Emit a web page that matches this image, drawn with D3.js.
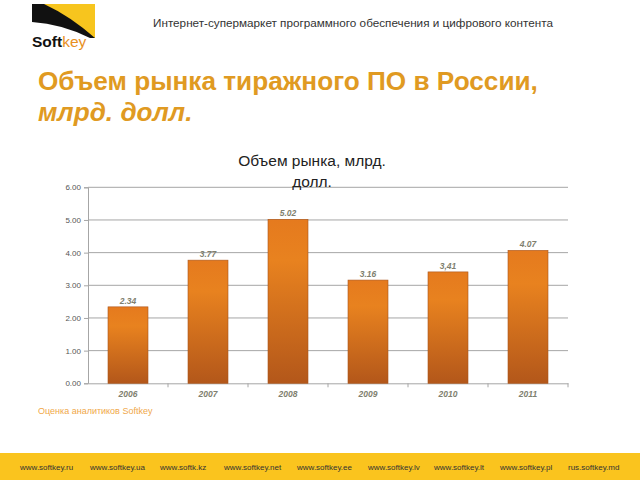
<!DOCTYPE html>
<html><head><meta charset="utf-8">
<script src="https://cdn.jsdelivr.net/npm/d3@7"></script>
<style>body{margin:0;background:#fff}svg{display:block}</style>
</head><body>
<script>
const years = ["2006","2007","2008","2009","2010","2011"];
const values = [2.34, 3.77, 5.02, 3.16, 3.41, 4.07];
const valueLabels = ["2.34","3.77","5.02","3.16","3,41","4.07"];
const yTicks = [0,1,2,3,4,5,6];
const footerLinks = ["www.softkey.ru","www.softkey.ua","www.softk.kz","www.softkey.net","www.softkey.ee","www.softkey.lv","www.softkey.lt","www.softkey.pl","rus.softkey.md"];
const footerX = [20,90,160,224,297,368,434,500,568];

const W=640,H=480;
const svg=d3.select("body").append("svg").attr("width",W).attr("height",H);
const defs=svg.append("defs");
const g=defs.append("linearGradient").attr("id","barg").attr("x1",0).attr("y1",0).attr("x2",0).attr("y2",1);
g.append("stop").attr("offset","0%").attr("stop-color","#E57A1E");
g.append("stop").attr("offset","25%").attr("stop-color","#E8821F");
g.append("stop").attr("offset","100%").attr("stop-color","#B3571A");

// logo
const logo=svg.append("g");
logo.append("rect").attr("x",32).attr("y",4).attr("width",63).attr("height",34).attr("fill","#F7C51E");
logo.append("path").attr("d","M32,4 L44,4 Q70,16 95,38 L32,38 Z").attr("fill","#111");
logo.append("path").attr("d","M32,22 Q62,24 90,38 L32,38 Z").attr("fill","#fff");
const lt=logo.append("text").attr("x",32).attr("y",47).attr("font-family","Liberation Sans, Arial, sans-serif").attr("font-size",15.5).attr("font-weight","bold");
lt.append("tspan").attr("fill","#111").text("Soft");
lt.append("tspan").attr("fill","#E8901E").attr("font-weight","normal").text("key");

svg.append("text").attr("x",153).attr("y",27).attr("font-family","Liberation Sans, Arial, sans-serif").attr("font-size",11.7).attr("fill","#333")
  .attr("textLength",400).attr("lengthAdjust","spacingAndGlyphs")
  .text("Интернет-супермаркет программного обеспечения и цифрового контента");

svg.append("text").attr("x",38).attr("y",90).attr("font-family","Liberation Sans, Arial, sans-serif").attr("font-size",26.2).attr("font-weight","bold").attr("fill","#E09A22")
  .text("Объем рынка тиражного ПО в России,");
svg.append("text").attr("x",38).attr("y",121).attr("font-family","Liberation Sans, Arial, sans-serif").attr("font-size",26.2).attr("font-weight","bold").attr("font-style","italic").attr("fill","#E09A22")
  .text("млрд. долл.");

// chart
const x=d3.scaleBand().domain(years).range([88,568]).paddingInner(0.5).paddingOuter(0.25);
const y=d3.scaleLinear().domain([0,6]).range([383.3,187.3]);

const grid=svg.append("g");
grid.selectAll("line").data(yTicks.slice(1)).join("line")
  .attr("x1",88).attr("x2",568).attr("y1",d=>y(d)).attr("y2",d=>y(d)).attr("stroke","#A6A6A6").attr("stroke-width",1);

const yAxis=svg.append("g").attr("transform","translate(88,0)")
  .call(d3.axisLeft(y).tickValues(yTicks).tickFormat(d3.format(".2f")).tickSize(4).tickPadding(3));
yAxis.select(".domain").attr("stroke","#A6A6A6");
yAxis.selectAll(".tick line").attr("stroke","#A6A6A6");
yAxis.selectAll("text").attr("font-family","Liberation Sans, Arial, sans-serif").attr("font-size",8).attr("fill","#555");

const xAxis=svg.append("g").attr("transform","translate(0,383.3)")
  .call(d3.axisBottom(x).tickSize(0).tickPadding(8));
xAxis.select(".domain").attr("stroke","#A6A6A6");
xAxis.selectAll("text").attr("font-family","Liberation Sans, Arial, sans-serif").attr("font-size",8.5).attr("font-weight","bold").attr("font-style","italic").attr("fill","#7F7F6F");
svg.append("g").selectAll("line").data(d3.range(1,7)).join("line")
  .attr("x1",d=>88+d*x.step()).attr("x2",d=>88+d*x.step()).attr("y1",383.3).attr("y2",387.3).attr("stroke","#A6A6A6");

svg.append("g").selectAll("rect").data(values).join("rect")
  .attr("x",(d,i)=>x(years[i])).attr("width",x.bandwidth())
  .attr("y",d=>y(d)).attr("height",d=>y(0)-y(d))
  .attr("fill","url(#barg)").attr("stroke","#A9551C").attr("stroke-width",0.6);

svg.append("g").selectAll("text").data(values).join("text")
  .attr("x",(d,i)=>x(years[i])+x.bandwidth()/2).attr("y",d=>y(d)-3)
  .attr("text-anchor","middle").attr("font-family","Liberation Sans, Arial, sans-serif").attr("font-size",8.5)
  .attr("font-weight","bold").attr("font-style","italic").attr("fill","#7F7F6F")
  .text((d,i)=>valueLabels[i]);

svg.append("text").attr("x",312).attr("y",166).attr("text-anchor","middle").attr("font-family","Liberation Sans, Arial, sans-serif").attr("font-size",15.5).attr("fill","#222").text("Объем рынка, млрд.");
svg.append("text").attr("x",312).attr("y",187).attr("text-anchor","middle").attr("font-family","Liberation Sans, Arial, sans-serif").attr("font-size",15.5).attr("fill","#222").text("долл.");

svg.append("text").attr("x",38).attr("y",414).attr("font-family","Liberation Sans, Arial, sans-serif").attr("font-size",9).attr("fill","#F0A84A").text("Оценка аналитиков Softkey");

// footer
svg.append("rect").attr("x",0).attr("y",453).attr("width",W).attr("height",27).attr("fill","#FAC41E");
svg.append("g").selectAll("text").data(footerLinks).join("text")
  .attr("x",(d,i)=>footerX[i]).attr("y",470).attr("font-family","Liberation Sans, Arial, sans-serif").attr("font-size",8).attr("fill","#333")
  .text(d=>d);
</script>
</body></html>
